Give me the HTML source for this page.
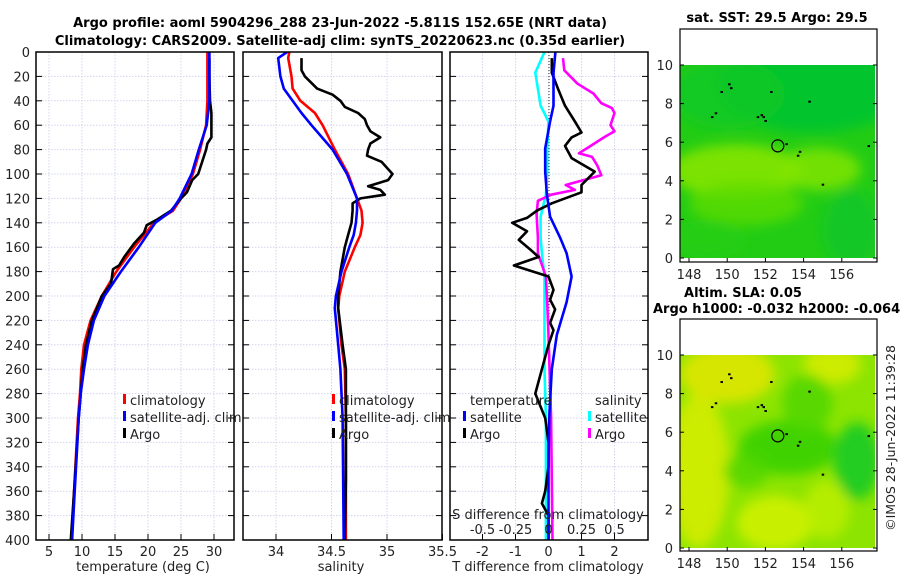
<!DOCTYPE html>
<html><head><meta charset="utf-8"><style>
html,body{margin:0;padding:0;background:#fff;}
svg{display:block;font-family:"DejaVu Sans","Liberation Sans",sans-serif;}
</style></head><body>
<svg id="fig" width="900" height="580" viewBox="0 0 900 580" xmlns="http://www.w3.org/2000/svg">
<defs>
<filter id="blur" x="-20%" y="-20%" width="140%" height="140%"><feGaussianBlur stdDeviation="6"/></filter>
<clipPath id="clipTop"><rect x="680" y="65" width="195" height="193"/></clipPath>
<clipPath id="clipBot"><rect x="680" y="355" width="195" height="193"/></clipPath>
<clipPath id="cp1"><rect x="36" y="52" width="198" height="488"/></clipPath>
<clipPath id="cp2"><rect x="243" y="52" width="199" height="488"/></clipPath>
<clipPath id="cp3"><rect x="450" y="52" width="198" height="488"/></clipPath>
</defs>
<g font-weight="bold" font-size="13" fill="#000" text-anchor="middle">
<text x="340" y="27">Argo profile: aoml 5904296_288 23-Jun-2022 -5.811S 152.65E (NRT data)</text>
<text x="340" y="45">Climatology: CARS2009. Satellite-adj clim: synTS_20220623.nc (0.35d earlier)</text>
</g>
<g id="plots"></g>
<g id="maps"></g>
</svg>
<script>
// ---- profile data ----
const depthT = [0,20,40,60,80,100,120,130,140,160,180,200,220,240,260,280,300,320,360,400];
const climT  = [29.0,29.0,29.0,28.8,27.9,26.8,25.0,23.8,20.9,17.9,15.2,13.0,11.3,10.3,9.9,9.7,9.4,9.2,8.8,8.4];
const satT   = [29.3,29.3,29.3,28.9,27.7,26.6,24.8,23.6,21.1,18.6,15.9,13.4,11.8,10.9,10.3,9.8,9.5,9.3,8.9,8.5];
const argoDepthT = [5,20,40,50,60,70,75,80,100,105,115,120,130,137,142,148,157,168,175,178,190,200,220,240,260,300,360,400];
const argoT = [29.3,29.3,29.4,29.6,29.6,29.6,29.0,28.8,27.6,26.7,25.9,25.0,23.5,21.5,19.8,19.4,17.9,16.4,15.6,14.7,14.4,13.0,11.5,10.6,10.1,9.5,8.8,8.3];

const depthS = [0,5,20,30,40,50,60,80,100,120,130,140,150,160,180,200,210,240,260,300,400];
const climS = [34.12,34.11,34.14,34.15,34.22,34.35,34.42,34.53,34.65,34.73,34.77,34.78,34.76,34.71,34.62,34.57,34.56,34.59,34.62,34.63,34.63];
const satS  = [34.10,34.02,34.04,34.07,34.15,34.23,34.32,34.51,34.64,34.73,34.73,34.72,34.70,34.66,34.59,34.54,34.53,34.56,34.58,34.60,34.61];
const argoDepthS = [5,15,20,30,35,40,45,50,55,60,65,70,75,80,85,90,95,100,105,110,113,117,120,124,130,140,150,160,180,200,210,240,260,300,350,400];
const argoS = [34.23,34.23,34.26,34.37,34.51,34.58,34.62,34.74,34.80,34.82,34.85,34.94,34.85,34.83,34.82,34.95,35.00,35.05,35.01,34.83,34.94,34.98,34.76,34.69,34.69,34.68,34.65,34.62,34.58,34.56,34.56,34.60,34.63,34.63,34.63,34.62];

const depthD = [0,17,44,57,79,98,117,135,152,165,184,205,232,260,300,340,400];
const satTdiff = [0.21,0.15,0.15,0.05,-0.1,-0.1,-0.05,0.05,0.35,0.55,0.7,0.55,0.25,0.1,0.02,0.0,0.0];
const satSdiff = [-0.03,-0.1,-0.06,0.0,-0.01,-0.01,-0.02,-0.06,-0.06,-0.05,-0.03,-0.03,-0.03,-0.03,-0.02,-0.02,-0.02];
const argoDepthSd = [5,15,26,34,42,46,50,60,65,70,77,83,86,93,101,109,113,117,122,133,152,165,184,205,232,300,400];
const argoSdiff = [0.11,0.12,0.22,0.34,0.40,0.48,0.50,0.47,0.50,0.42,0.32,0.23,0.33,0.37,0.40,0.13,0.20,0.02,-0.08,-0.09,-0.08,-0.08,-0.02,-0.01,0.0,0.02,0.03];
const argoDepthTd = [5,17,31,44,57,66,70,77,87,98,109,115,124,130,136,140,147,154,162,168,175,184,195,203,211,222,228,240,260,280,300,320,340,360,370,380,400];
const argoTdiff = [0.1,0.1,0.3,0.5,0.8,1.0,0.7,0.5,0.7,1.4,1.0,1.0,0.1,-0.35,-0.65,-1.1,-0.65,-0.9,-0.55,-0.3,-1.05,0.0,0.15,0.05,0.2,0.05,0.15,0.0,-0.2,-0.4,-0.1,0.0,0.0,-0.1,-0.2,0.0,0.0];

const depthTicks = [0,20,40,60,80,100,120,140,160,180,200,220,240,260,280,300,320,340,360,380,400];
const tempTicks = [5,10,15,20,25,30];
const salTicks = [34,34.5,35,35.5];
const tdTicks = [-2,-1,0,1,2];
const sdTicks = [-0.5,-0.25,0,0.25,0.5];

// ---- map data ----
const lonTicks = [148,150,152,154,156];
const latTicks = [0,2,4,6,8,10];
const floatLon = [152.65];
const floatLat = [5.81];
const islandLon = [149.2,149.4,149.7,150.1,150.2,151.6,151.8,151.9,152.0,152.3,153.1,153.7,153.8,154.3,155.0,157.4];
const islandLat = [7.3,7.5,8.6,9.0,8.8,7.3,7.4,7.3,7.1,8.6,5.9,5.3,5.5,8.1,3.8,5.8];

const NS='http://www.w3.org/2000/svg';
const plots=document.getElementById('plots');
const maps=document.getElementById('maps');
function mk(tag,attrs,parent,text){const e=document.createElementNS(NS,tag);for(const k in attrs)e.setAttribute(k,attrs[k]);if(text!==undefined)e.textContent=text;parent.appendChild(e);return e;}

const yTop=52,yBot=540;
const yD=d=>yTop+d*(yBot-yTop)/400;
const GRID='#d2d4ee';

function panel(x0,x1,name,xs,ticks,tickFmt,clip){
  const g=mk('g',{},plots);
  
  
  ticks.forEach(t=>{const x=xs(t);if(x>x0+1&&x<x1-1)mk('line',{x1:x,y1:yTop,x2:x,y2:yBot,stroke:GRID,'stroke-width':1,'stroke-dasharray':'1.5,1.5'},g);});
  depthTicks.forEach(d=>{const y=yD(d);mk('line',{x1:x0,y1:y,x2:x1,y2:y,stroke:GRID,'stroke-width':1,'stroke-dasharray':'1.5,1.5'},g);
    mk('line',{x1:x0,y1:y,x2:x0+6,y2:y,stroke:'#000'},g);mk('line',{x1:x1-6,y1:y,x2:x1,y2:y,stroke:'#000'},g);});
  ticks.forEach(t=>{const x=xs(t);mk('line',{x1:x,y1:yBot,x2:x,y2:yBot-6,stroke:'#000'},g);
    const lab=mk('text',{x:x,y:556,'font-size':13,'text-anchor':'middle',fill:'#222'},g,tickFmt(t));
    
    });
  const body=mk('g',{'clip-path':'url(#'+clip+')'},g);
  return {g,body,box:()=>mk('rect',{x:x0,y:yTop,width:x1-x0,height:yBot-yTop,fill:'none',stroke:'#000','stroke-width':1.5},g)};
}
function line(parent,xs,depths,vals,color,name,w){
  const p=mk('path',{d:vals.map((v,i)=>(i?'L':'M')+xs(v).toFixed(1)+','+yD(depths[i]).toFixed(1)).join(''),fill:'none',stroke:color,'stroke-width':w||2.6,'stroke-linejoin':'round'},parent);
  
  
}

const xT=t=>49+(t-5)*6.6;
const p1=panel(36,234,'temperature-panel',xT,tempTicks,t=>String(t),'cp1');
line(p1.body,xT,depthT,climT,'#f00','climatology-temperature-line');
line(p1.body,xT,argoDepthT,argoT,'#000','argo-temperature-line');
line(p1.body,xT,depthT,satT,'#00f','satellite-temperature-line');
p1.box();
depthTicks.forEach(d=>{const t=mk('text',{x:30,y:yD(d)+5,'font-size':13,'text-anchor':'end',fill:'#222'},plots,String(d));
  
  });
mk('text',{x:143,y:571,'font-size':13,'text-anchor':'middle',fill:'#222'},plots,'temperature (deg C)');

const xS=s=>276+(s-34)*111;
const p2=panel(243,442,'salinity-panel',xS,salTicks,s=>String(s),'cp2');
line(p2.body,xS,depthS,climS,'#f00','climatology-salinity-line');
line(p2.body,xS,argoDepthS,argoS,'#000','argo-salinity-line');
line(p2.body,xS,depthS,satS,'#00f','satellite-salinity-line');
p2.box();
mk('text',{x:341,y:571,'font-size':13,'text-anchor':'middle',fill:'#222'},plots,'salinity');

const xTd=v=>548.5+v*33;
const xSd=v=>548.5+v*132;
const p3=panel(450,648,'difference-panel',xTd,tdTicks,t=>String(t),'cp3');
mk('line',{x1:549,y1:yTop,x2:549,y2:yBot,stroke:'#333','stroke-width':1,'stroke-dasharray':'1,2'},p3.body);
line(p3.body,xSd,depthD,satSdiff,'#0ff','satellite-salinity-diff-line');
line(p3.body,xSd,argoDepthSd,argoSdiff,'#f0f','argo-salinity-diff-line');
line(p3.body,xTd,argoDepthTd,argoTdiff,'#000','argo-temperature-diff-line');
line(p3.body,xTd,depthD,satTdiff,'#00f','satellite-temperature-diff-line');
p3.box();
sdTicks.forEach(v=>{const t=mk('text',{x:xSd(v),y:534,'font-size':13,'text-anchor':'middle',fill:'#222'},plots,String(v));
  
  });
mk('text',{x:548,y:519,'font-size':13,'text-anchor':'middle',fill:'#222'},plots,'S difference from climatology');
mk('text',{x:548,y:571,'font-size':13,'text-anchor':'middle',fill:'#222'},plots,'T difference from climatology');

function legItem(x,y,color,label,name){
  const g=mk('g',{},plots);
  
  
  if(color)mk('rect',{x:x-7,y:y-11,width:3,height:10,fill:color},g);
  mk('text',{x:x,y:y,'font-size':13,fill:'#222'},g,label);
}
legItem(130,405,'#f00','climatology','legend-climatology');
legItem(130,422,'#00f','satellite-adj. clim','legend-satellite-adj');
legItem(130,439,'#000','Argo','legend-argo');
legItem(339,405,'#f00','climatology','legend-climatology-2');
legItem(339,422,'#00f','satellite-adj. clim','legend-satellite-adj-2');
legItem(339,439,'#000','Argo','legend-argo-2');
legItem(470,405,null,'temperature','legend-temperature-header');
legItem(470,422,'#00f','satellite','legend-t-satellite');
legItem(470,439,'#000','Argo','legend-t-argo');
legItem(595,405,null,'salinity','legend-salinity-header');
legItem(595,422,'#0ff','satellite','legend-s-satellite');
legItem(595,439,'#f0f','Argo','legend-s-argo');

function mapPanel(boxTop,boxBot,y0,name,clip,base,blobs){
  const g=mk('g',{},maps);
  
  
  const lx=v=>689+(v-148)*19.1, ly=v=>y0-v*19.3;
  const bg=mk('g',{'clip-path':'url(#'+clip+')'},g);
  mk('rect',{x:680,y:ly(10.1),width:196,height:200,fill:base},bg);
  const bl=mk('g',{filter:'url(#blur)'},bg);
  blobs.forEach(b=>mk('ellipse',{cx:lx(b[0]),cy:ly(b[1]),rx:b[2]*19.1,ry:b[3]*19.3,fill:b[4],opacity:b[5]},bl));
  islandLon.forEach((v,i)=>{const d=mk('rect',{x:lx(v)-1,y:ly(islandLat[i])-1,width:2.5,height:2,fill:'#000'},bg);
    
    });
  floatLon.forEach((v,i)=>{const c=mk('circle',{cx:lx(v),cy:ly(floatLat[i]),r:6,fill:'none',stroke:'#000','stroke-width':1.2},g);
    
    });
  mk('rect',{x:680,y:boxTop,width:197,height:boxBot-boxTop,fill:'none',stroke:'#000','stroke-width':1.2},g);
  latTicks.forEach(v=>{const y=ly(v);mk('line',{x1:680,y1:y,x2:684,y2:y,stroke:'#000'},g);mk('line',{x1:873,y1:y,x2:877,y2:y,stroke:'#000'},g);
    mk('text',{x:673,y:y+5,'font-size':13,'text-anchor':'end',fill:'#222'},g,String(v));});
  lonTicks.forEach(v=>{const x=lx(v);mk('line',{x1:x,y1:boxBot,x2:x,y2:boxBot-4,stroke:'#000'},g);
    mk('text',{x:x,y:boxBot+17,'font-size':13,'text-anchor':'middle',fill:'#222'},g,String(v));});
  return g;
}
mapPanel(29,262,258,'sst-map','clipTop','#22cc14',[
  [154.5,9,5,2.5,'#06c430',0.95],[150,8.5,3,1.8,'#12c826',0.8],
  [150.5,4.5,3.5,1.4,'#80e400',0.95],[154.8,4.6,2.2,1.1,'#80e400',0.85],[151,2.8,3,1.1,'#5cdc06',0.8],
  [156.5,1.5,1.5,2,'#0cc52c',0.8],[149,1,2,1,'#2acf10',0.6]]);
mapPanel(319,551,548,'sla-map','clipBot','#8ce400',[
  [148.5,4,1.6,4,'#d0ec00',0.95],[150,9,2.5,1.5,'#dae600',0.95],[155.5,9.5,1.5,1,'#d0ec00',0.95],
  [152.5,1.3,2,1.4,'#ccf000',0.95],[155.2,2,1.2,1.5,'#bcee00',0.85],
  [153.2,5.2,2.6,1.4,'#3cd200',0.95],[154.2,7.5,1.3,1.5,'#50d600',0.85],[156.8,4.5,1.2,2,'#1ccb24',0.95],[151,4,1.2,0.9,'#50d600',0.8]]);
const t1=mk('text',{x:777,y:22,'font-size':13,'font-weight':'bold','text-anchor':'middle'},maps,'sat. SST: 29.5 Argo: 29.5');

const t2=mk('text',{x:743,y:297,'font-size':13,'font-weight':'bold','text-anchor':'middle'},maps,'Altim. SLA: 0.05');

const t3=mk('text',{x:653,y:313,'font-size':13,'font-weight':'bold'},maps,'Argo h1000: -0.032 h2000: -0.064');

const t4=mk('text',{x:0,y:0,'font-size':12.5,'text-anchor':'middle',fill:'#222',transform:'translate(895,438) rotate(-90)'},maps,'©IMOS 28-Jun-2022 11:39:28');

</script>
</body></html>
